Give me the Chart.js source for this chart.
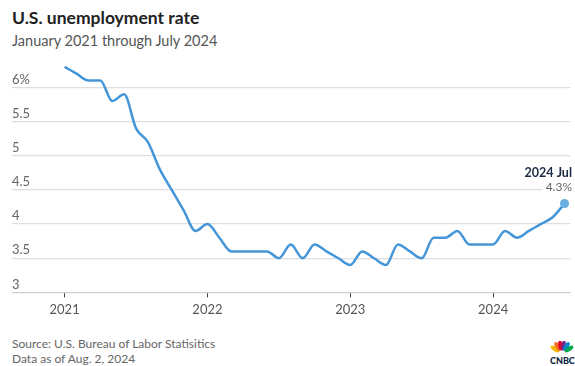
<!DOCTYPE html>
<html><head><meta charset="utf-8">
<script src="https://cdn.jsdelivr.net/npm/chart.js@4"></script>
<style>
html,body{margin:0;padding:0;background:#fff;}
body{width:575px;height:366px;overflow:hidden;position:relative;font-family:Lato,"Open Sans",sans-serif;}
#title{position:absolute;left:12px;top:7px;font-weight:bold;font-size:17.5px;color:#222;white-space:nowrap;}
#sub{position:absolute;left:12px;top:32px;font-size:14.5px;color:#555;white-space:nowrap;}
#src{position:absolute;left:12px;top:336px;font-size:12px;line-height:15px;color:#666;white-space:nowrap;}
#wrap{position:absolute;left:0;top:0;width:575px;height:334px;}
#logo{position:absolute;left:549px;top:341px;}
</style></head>
<body>
<div id="title">U.S. unemployment rate</div>
<div id="sub">January 2021 through July 2024</div>
<div id="wrap"><canvas id="c" width="575" height="334"></canvas></div>
<div id="src">Source: U.S. Bureau of Labor Statisitics<br>Data as of Aug. 2, 2024</div>
<svg id="logo" width="30" height="25" viewBox="0 0 30 25">
  <g transform="translate(13,12)">
    <ellipse cx="-7" cy="-4" rx="2.2" ry="5" fill="#f7b500" transform="rotate(-55 -7 -4)"/>
    <ellipse cx="-4.5" cy="-6.5" rx="2.2" ry="5" fill="#f37021" transform="rotate(-30 -4.5 -6.5)"/>
    <ellipse cx="-1.5" cy="-7.5" rx="2.2" ry="5" fill="#e4002b" transform="rotate(-10 -1.5 -7.5)"/>
    <ellipse cx="1.5" cy="-7.5" rx="2.2" ry="5" fill="#6e2c8b" transform="rotate(10 1.5 -7.5)"/>
    <ellipse cx="4.5" cy="-6.5" rx="2.2" ry="5" fill="#0089d0" transform="rotate(30 4.5 -6.5)"/>
    <ellipse cx="7" cy="-4" rx="2.2" ry="5" fill="#00a650" transform="rotate(55 7 -4)"/>
  </g>
  <text x="1" y="23" font-family="Lato,sans-serif" font-weight="900" font-size="9" fill="#0a2240">CNBC</text>
</svg>
<script>
const years = ['2021', '2022', '2023', '2024'];
const rate2021 = [6.3, 6.2, 6.1, 6.1, 5.8, 5.9, 5.4, 5.2, 4.8, 4.5, 4.2, 3.9];
const rate2022 = [4.0, 3.8, 3.6, 3.6, 3.6, 3.6, 3.5, 3.7, 3.5, 3.7, 3.6, 3.5];
const rate2023 = [3.4, 3.6, 3.5, 3.4, 3.7, 3.6, 3.5, 3.8, 3.8, 3.9, 3.7, 3.7];
const rate2024 = [3.7, 3.9, 3.8, 3.9, 4.0, 4.1, 4.3];
const yTicks = [3, 3.5, 4, 4.5, 5, 5.5, 6];
const yTickLabels = ['3', '3.5', '4', '4.5', '5', '5.5', '6%'];
const lastLabel = '2024 Jul';
const lastValueLabel = '4.3%';

const rates = [].concat(rate2021, rate2022, rate2023, rate2024);
const points = rates.map((v, i) => ({x: i, y: v}));
const yearTickValues = years.map((y, i) => i * 12);

const annot = {
  id: 'annot',
  afterDatasetsDraw(chart) {
    const meta = chart.getDatasetMeta(0);
    const p = meta.data[meta.data.length - 1];
    const ctx = chart.ctx;
    ctx.save();
    ctx.textAlign = 'right';
    ctx.textBaseline = 'middle';
    const xr = 572;
    ctx.font = '12px Lato, sans-serif';
    const w2 = ctx.measureText(lastValueLabel).width;
    ctx.fillStyle = '#fff';
    ctx.fillRect(xr - w2 - 3, p.y - 24, w2 + 6, 14);
    ctx.fillStyle = '#666';
    ctx.fillText(lastValueLabel, xr, p.y - 16);
    ctx.font = 'bold 12.5px Lato, sans-serif';
    ctx.fillStyle = '#1c2b45';
    ctx.fillText(lastLabel, xr, p.y - 31);
    ctx.restore();
  }
};

new Chart(document.getElementById('c'), {
  type: 'line',
  data: {
    datasets: [{
      data: points,
      borderColor: '#4596d8',
      borderWidth: 2.5,
      cubicInterpolationMode: 'monotone',
      pointRadius: points.map((p, i) => i === points.length - 1 ? 4.5 : 0),
      pointBackgroundColor: '#6aaee2',
      pointBorderColor: '#6aaee2',
      pointBorderWidth: 0,
      clip: false
    }]
  },
  options: {
    responsive: false,
    animation: false,
    events: [],
    layout: {padding: {left: 12, top: 60, right: 0, bottom: 11}},
    plugins: {legend: {display: false}, tooltip: {enabled: false}},
    scales: {
      x: {
        type: 'linear',
        min: -4.42,
        max: 42.5,
        afterBuildTicks: s => { s.ticks = yearTickValues.map(v => ({value: v})); },
        ticks: {
          callback: v => years[yearTickValues.indexOf(v)],
          color: '#555',
          font: {family: 'Lato, sans-serif', size: 13},
          padding: 5,
          maxRotation: 0,
          autoSkip: false
        },
        grid: {drawOnChartArea: false, drawTicks: true, tickLength: 5, tickColor: '#444', tickWidth: 1},
        border: {display: false}
      },
      y: {
        min: 3,
        max: 6.4,
        afterBuildTicks: s => { s.ticks = yTicks.map(v => ({value: v})); },
        ticks: {
          mirror: true,
          padding: 0,
          labelOffset: -8,
          callback: v => yTickLabels[yTicks.indexOf(v)],
          color: '#666',
          font: {family: 'Lato, sans-serif', size: 13}
        },
        grid: {
          drawTicks: false,
          color: c => c.tick && c.tick.value === 3 ? '#cfcfcf' : '#dedede',
          lineWidth: 1.2
        },
        border: {display: false}
      }
    }
  },
  plugins: [annot]
});
</script>
</body></html>
